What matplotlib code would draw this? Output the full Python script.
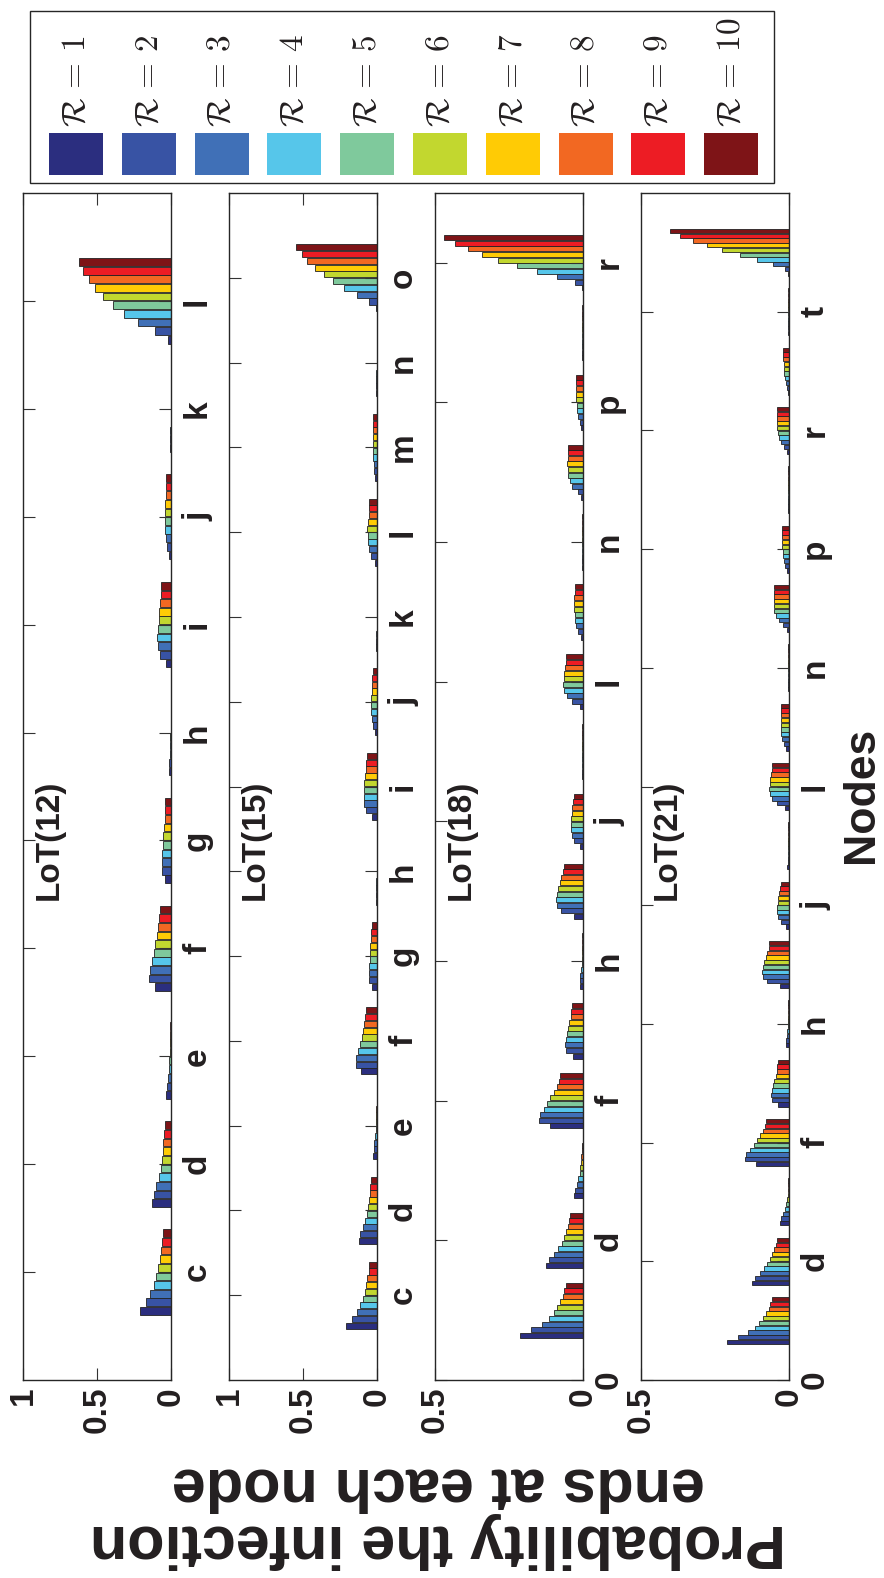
import numpy as np
import matplotlib
matplotlib.use("Agg")
from matplotlib import pyplot as plt
from matplotlib.patches import Rectangle

plt.rcParams["font.family"] = ["Liberation Sans", "DejaVu Sans"]
plt.rcParams["font.weight"] = "bold"
plt.rcParams["mathtext.fontset"] = "cm"

# one list of 10 values (R = 1..10) per node
lot12_nodes = list("cdefghijkl")
lot12_vals = [
    [0.207, 0.168, 0.139, 0.113, 0.099, 0.086, 0.077, 0.066, 0.059, 0.056],
    [0.126, 0.112, 0.099, 0.081, 0.070, 0.063, 0.056, 0.052, 0.045, 0.040],
    [0.031, 0.025, 0.020, 0.016, 0.011, 0.009, 0.005, 0.004, 0.004, 0.003],
    [0.108, 0.146, 0.141, 0.130, 0.117, 0.105, 0.097, 0.088, 0.083, 0.074],
    [0.038, 0.061, 0.061, 0.058, 0.054, 0.052, 0.045, 0.043, 0.038, 0.038],
    [0.011, 0.011, 0.010, 0.009, 0.006, 0.003, 0.003, 0.003, 0.003, 0.003],
    [0.034, 0.074, 0.088, 0.092, 0.088, 0.083, 0.079, 0.072, 0.070, 0.065],
    [0.011, 0.029, 0.037, 0.038, 0.038, 0.038, 0.038, 0.036, 0.033, 0.033],
    [0.004, 0.004, 0.004, 0.003, 0.003, 0.003, 0.003, 0.003, 0.003, 0.003],
    [0.018, 0.110, 0.220, 0.317, 0.395, 0.460, 0.512, 0.557, 0.595, 0.624],
]

lot15_nodes = list("cdefghijklmno")
lot15_vals = [
    [0.208, 0.169, 0.135, 0.113, 0.097, 0.083, 0.074, 0.065, 0.056, 0.052],
    [0.122, 0.113, 0.095, 0.079, 0.065, 0.059, 0.052, 0.047, 0.045, 0.041],
    [0.027, 0.023, 0.018, 0.014, 0.009, 0.005, 0.004, 0.004, 0.003, 0.003],
    [0.106, 0.144, 0.142, 0.129, 0.115, 0.104, 0.095, 0.088, 0.081, 0.077],
    [0.036, 0.056, 0.056, 0.054, 0.050, 0.047, 0.045, 0.040, 0.038, 0.036],
    [0.010, 0.007, 0.005, 0.004, 0.003, 0.003, 0.003, 0.003, 0.003, 0.003],
    [0.034, 0.075, 0.088, 0.090, 0.088, 0.086, 0.081, 0.077, 0.072, 0.068],
    [0.011, 0.029, 0.036, 0.041, 0.038, 0.038, 0.036, 0.034, 0.034, 0.029],
    [0.005, 0.005, 0.004, 0.003, 0.003, 0.003, 0.003, 0.003, 0.003, 0.003],
    [0.011, 0.038, 0.056, 0.061, 0.063, 0.065, 0.063, 0.056, 0.056, 0.056],
    [0.014, 0.020, 0.023, 0.027, 0.027, 0.027, 0.029, 0.029, 0.027, 0.027],
    [0.004, 0.004, 0.004, 0.004, 0.003, 0.003, 0.003, 0.003, 0.003, 0.003],
    [0.009, 0.056, 0.135, 0.221, 0.298, 0.361, 0.418, 0.470, 0.508, 0.546],
]

lot18_nodes = list("cdefghijklmnopqr")
lot18_vals = [
    [0.212, 0.174, 0.140, 0.115, 0.099, 0.087, 0.077, 0.068, 0.063, 0.059],
    [0.126, 0.115, 0.099, 0.086, 0.072, 0.063, 0.056, 0.051, 0.046, 0.043],
    [0.032, 0.027, 0.020, 0.016, 0.011, 0.009, 0.007, 0.006, 0.005, 0.005],
    [0.111, 0.148, 0.146, 0.133, 0.120, 0.111, 0.099, 0.089, 0.082, 0.077],
    [0.035, 0.058, 0.061, 0.059, 0.054, 0.051, 0.047, 0.042, 0.040, 0.037],
    [0.011, 0.011, 0.009, 0.007, 0.005, 0.003, 0.003, 0.003, 0.003, 0.003],
    [0.032, 0.074, 0.088, 0.091, 0.089, 0.086, 0.079, 0.073, 0.068, 0.065],
    [0.011, 0.029, 0.038, 0.041, 0.042, 0.041, 0.038, 0.036, 0.034, 0.032],
    [0.005, 0.005, 0.004, 0.003, 0.002, 0.002, 0.002, 0.002, 0.002, 0.002],
    [0.009, 0.037, 0.054, 0.065, 0.068, 0.065, 0.063, 0.061, 0.059, 0.058],
    [0.007, 0.016, 0.023, 0.026, 0.028, 0.030, 0.030, 0.029, 0.028, 0.028],
    [0.003, 0.003, 0.003, 0.003, 0.003, 0.003, 0.003, 0.003, 0.003, 0.003],
    [0.006, 0.018, 0.036, 0.045, 0.050, 0.052, 0.053, 0.052, 0.051, 0.050],
    [0.007, 0.011, 0.016, 0.019, 0.021, 0.023, 0.024, 0.024, 0.025, 0.025],
    [0.002, 0.002, 0.002, 0.002, 0.002, 0.002, 0.002, 0.002, 0.002, 0.002],
    [0.002, 0.028, 0.087, 0.156, 0.223, 0.286, 0.341, 0.389, 0.431, 0.470],
]

lot21_nodes = list("cdefghijklmnopqrstu")
lot21_vals = [
    [0.209, 0.172, 0.139, 0.116, 0.101, 0.087, 0.077, 0.069, 0.063, 0.059],
    [0.125, 0.115, 0.099, 0.085, 0.073, 0.064, 0.056, 0.051, 0.045, 0.042],
    [0.030, 0.026, 0.019, 0.014, 0.009, 0.007, 0.004, 0.004, 0.004, 0.004],
    [0.113, 0.149, 0.144, 0.132, 0.119, 0.107, 0.097, 0.088, 0.081, 0.077],
    [0.037, 0.058, 0.060, 0.058, 0.053, 0.049, 0.045, 0.042, 0.040, 0.037],
    [0.009, 0.009, 0.008, 0.006, 0.005, 0.003, 0.003, 0.003, 0.003, 0.003],
    [0.032, 0.073, 0.087, 0.090, 0.088, 0.085, 0.079, 0.073, 0.069, 0.067],
    [0.011, 0.028, 0.038, 0.040, 0.040, 0.038, 0.036, 0.034, 0.032, 0.028],
    [0.006, 0.005, 0.005, 0.004, 0.003, 0.003, 0.003, 0.003, 0.003, 0.003],
    [0.014, 0.040, 0.059, 0.064, 0.066, 0.065, 0.063, 0.061, 0.058, 0.056],
    [0.009, 0.018, 0.023, 0.026, 0.028, 0.028, 0.028, 0.028, 0.027, 0.026],
    [0.003, 0.003, 0.003, 0.003, 0.003, 0.003, 0.003, 0.003, 0.003, 0.003],
    [0.006, 0.021, 0.035, 0.045, 0.051, 0.052, 0.050, 0.050, 0.049, 0.049],
    [0.007, 0.012, 0.017, 0.019, 0.021, 0.023, 0.024, 0.023, 0.023, 0.023],
    [0.002, 0.002, 0.002, 0.002, 0.002, 0.002, 0.002, 0.002, 0.002, 0.002],
    [0.008, 0.018, 0.028, 0.034, 0.037, 0.040, 0.042, 0.042, 0.042, 0.042],
    [0.005, 0.008, 0.011, 0.014, 0.016, 0.018, 0.018, 0.020, 0.020, 0.020],
    [0.002, 0.002, 0.002, 0.002, 0.002, 0.002, 0.002, 0.002, 0.002, 0.002],
    [0.002, 0.012, 0.054, 0.109, 0.167, 0.225, 0.277, 0.324, 0.367, 0.403],
]

r_colors = ["#2b2e7f", "#3853a4", "#4070b7", "#56c6ea", "#7fc99c",
            "#c2d72f", "#ffcb05", "#f26822", "#ed1c24", "#7e1417"]
r_labels = [r"$\mathcal{R}\,=\,%d$" % r for r in range(1, 11)]

panels = [
    ("LoT(12)", lot12_nodes, lot12_vals, 1.0, "all"),
    ("LoT(15)", lot15_nodes, lot15_vals, 1.0, "all"),
    ("LoT(18)", lot18_nodes, lot18_vals, 0.5, "even"),
    ("LoT(21)", lot21_nodes, lot21_vals, 0.5, "even"),
]

W, H = 884, 1578
fig = plt.figure(figsize=(W / 100, H / 100), dpi=100)

panel_left = [23, 229, 435, 641]
top_px, bot_px, width_px = 193, 1380, 148
fs = 24
ink = "#231f20"

for left, (name, nodes, vals, vmax, tick_mode) in zip(panel_left, panels):
    ax = fig.add_axes([left / W, 1 - bot_px / H, width_px / W, (bot_px - top_px) / H])
    vals = np.array(vals)
    pos = np.arange(1, len(nodes) + 1)
    for r in range(10):
        ax.barh(pos + (r - 4.5) * 0.08, vals[:, r], height=0.072,
                color=r_colors[r], edgecolor="#222222", linewidth=0.6)

    ax.set_xlim(vmax, 0)
    ax.set_ylim(0, len(nodes) + 1)
    xt = [0, 0.5, 1] if vmax == 1.0 else [0, 0.5]
    ax.set_xticks(xt)
    ax.set_xticklabels(["0", "0.5", "1"][:len(xt)], rotation=90, fontsize=fs,
                       fontweight="bold", color=ink)

    ax.yaxis.tick_right()
    if tick_mode == "all":
        yt, ylabs = pos, nodes
    else:
        yt = list(range(0, len(nodes) + 1, 2))
        ylabs = ["0"] + [nodes[t - 1] for t in yt[1:]]
    ax.set_yticks(yt)
    ax.set_yticklabels(ylabs, rotation=90, fontsize=fs, fontweight="bold",
                       color=ink, va="center")

    ax.tick_params(axis="both", direction="in", length=8.5, width=0.8,
                   top=True, bottom=True, left=True, right=True,
                   labelleft=False, labelright=True, colors="#333333")
    ax.tick_params(axis="x", pad=5, labelcolor=ink)
    ax.tick_params(axis="y", pad=8, labelcolor=ink)
    for sp in ax.spines.values():
        sp.set_linewidth(1.0)
        sp.set_color("#262626")

    ax.text(0.07, 0.455, name, transform=ax.transAxes, rotation=90,
            ha="left", va="center", fontsize=fs, fontweight="bold", color=ink)

# legend box across the top
leg = fig.add_axes([0, 0, 1, 1])
leg.set_xlim(0, W)
leg.set_ylim(H, 0)
leg.axis("off")
leg.add_patch(Rectangle((30, 11), 744, 172, fill=False, edgecolor="#262626", lw=1.0))
for i, (col, lab) in enumerate(zip(r_colors, r_labels)):
    xc = 76 + i * 72.8
    leg.add_patch(Rectangle((xc - 27, 133), 54, 42, facecolor=col, edgecolor="none"))
    leg.text(xc, 127, lab, rotation=90, ha="center", va="bottom", fontsize=24, color=ink)

fig.text(861 / W, 1 - 795 / H, "Nodes", rotation=90, ha="center", va="center",
         fontsize=32, fontweight="bold", color=ink)
fig.text(438 / W, 1 - 1512 / H, "Probability the infection\nends at each node",
         rotation=180, ha="center", va="center", multialignment="center",
         fontsize=44, fontweight="bold", color=ink, linespacing=1.0)

fig.savefig("out.png", dpi=100)
